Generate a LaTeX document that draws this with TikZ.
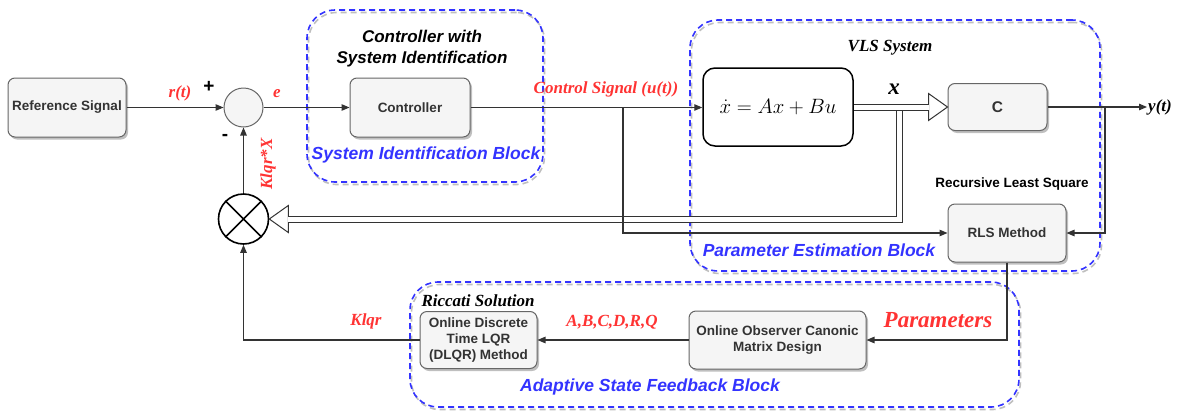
\documentclass[tikz,border=0pt]{standalone}
\usepackage{fontspec}
\setmainfont{Liberation Serif}
\setsansfont{Liberation Sans}
\usetikzlibrary{arrows.meta,shadows,calc}
\definecolor{boxfill}{HTML}{F5F5F5}
\definecolor{boxdraw}{HTML}{666666}
\definecolor{txt}{HTML}{333333}
\definecolor{lblred}{HTML}{FF3333}
\definecolor{blkblue}{HTML}{3333FF}
\newcommand\fsz[2]{\fontsize{#1}{#2}\selectfont}
\begin{document}
\begin{tikzpicture}[x=1pt,y=-1pt,
  box/.style={draw=boxdraw, fill=boxfill, rounded corners=7pt, text=txt,
    font=\sffamily\bfseries\fsz{13.5}{16.5}, align=center, inner sep=2pt, line width=1pt,
    drop shadow={shadow xshift=2pt, shadow yshift=-2.5pt, opacity=0.25, fill=black}},
  frame/.style={draw=blkblue, line width=1.6pt, dash pattern=on 6pt off 4pt, rounded corners=28pt,
    preaction={draw=black!25, line width=1.6pt, dash pattern=on 6pt off 4pt,
      transform canvas={shift={(1.5pt,-2.5pt)}}}},
  redlbl/.style={font=\rmfamily\bfseries\itshape\fsz{17}{20}, text=lblred, inner sep=0pt},
  blklbl/.style={font=\rmfamily\bfseries\itshape\fsz{17}{20}, text=black, inner sep=0pt},
  bluelbl/.style={font=\sffamily\bfseries\itshape\fsz{17.5}{21}, text=blkblue, inner sep=0pt},
  conn/.style={draw=txt, line width=1.1pt},
  arr/.style={-{Triangle[length=8pt,width=6.5pt]}},
  dbl/.style={draw=txt, line width=1pt, double=white, double distance=5pt},
  tri/.style={draw=txt, line width=1pt, fill=white, line join=miter}
]
\useasboundingbox (0,0) rectangle (1187,410);

% dashed group frames
\node[frame, minimum width=236, minimum height=172] (sib) at (425,96) {};
\node[frame, minimum width=410, minimum height=251] (vls) at (895,145.5) {};
\node[frame, minimum width=609, minimum height=125] (asf) at (714.5,344.5) {};

% blocks
\node[box, minimum width=118, minimum height=59] (ref) at (67,107.5) {Reference Signal};
\node[circle, draw=boxdraw, fill=boxfill, line width=1pt, minimum size=39, inner sep=0pt] (sum) at (243.5,107.5) {};
\node[box, minimum width=120, minimum height=59] (ctrl) at (410,107.5) {Controller};
\node[draw=black, fill=white, line width=1.5pt, rounded corners=12pt, minimum width=150, minimum height=78, inner sep=0pt] (state) at (778,107) {\fsz{20.5}{24}$\dot{x} = Ax + Bu$};
\node[box, minimum width=99, minimum height=47, font=\sffamily\bfseries\fsz{15.5}{18}] (cbox) at (997.5,107) {C};
\node[box, minimum width=118, minimum height=58] (rls) at (1007,233) {RLS Method};
\node[box, minimum width=177, minimum height=58] (obs) at (777.5,340) {Online Observer Canonic\\Matrix Design};
\node[box, minimum width=117, minimum height=57, font=\sffamily\bfseries\fsz{13.5}{16}] (dlqr) at (478.5,340) {Online Discrete\\Time LQR\\(DLQR) Method};
\node[circle, draw=black, fill=white, line width=1.6pt, minimum size=50, inner sep=0pt] (mult) at (243.5,219) {};
\draw[line width=1.6pt] (mult.north west) -- (mult.south east) (mult.north east) -- (mult.south west);

% labels
\node[font=\sffamily\bfseries\itshape\fsz{17}{21}, align=center, inner sep=0pt] (ctitle) at (422,48.5) {Controller with\\System Identification};
\node[bluelbl] (sibl) at (426,155) {System Identification Block};
\node[bluelbl] (vlsl) at (819,250) {Parameter Estimation Block};
\node[bluelbl] (asfl) at (650,387) {Adaptive State Feedback Block};
\node[redlbl] (rt) at (180,93) {r(t)};
\node[font=\sffamily\bfseries\fsz{19}{22}, inner sep=0pt] (plus) at (209,87) {+};
\node[font=\sffamily\bfseries\fsz{19}{22}, inner sep=0pt] (minus) at (225,137) {-};
\node[redlbl] (el) at (277,94) {e};
\node[redlbl, rotate=90] (klx) at (268,164) {Klqr*X};
\node[redlbl] (csig) at (606,89) {Control Signal (u(t))};
\node[blklbl] (vlst) at (890,48) {VLS System};
\node[blklbl, font=\rmfamily\bfseries\itshape\fsz{23}{26}] (xl) at (894,89) {x};
\node[blklbl, anchor=west, inner sep=1pt] (yl) at (1147,107) {y(t)};
\node[font=\sffamily\bfseries\fsz{13.5}{16}, inner sep=0pt] (rlst) at (1012,184) {Recursive Least Square};
\node[redlbl, font=\rmfamily\bfseries\itshape\fsz{23}{26}] (par) at (938,320) {Parameters};
\node[redlbl] (abcd) at (612,322) {A,B,C,D,R,Q};
\node[blklbl] (ric) at (478,301) {Riccati Solution};
\node[redlbl] (klqr) at (366,321) {Klqr};

% hollow double arrows
\coordinate (j) at (899.5,107);
\draw[tri] (cbox.west) -- ++(-19,-13.5) -- ++(0,27) -- cycle;
\draw[tri] (mult.east) -- ++(19,-13.5) -- ++(0,27) -- cycle;
\draw[dbl] (j) -- (j |- mult.east) -- ($(mult.east)+(18.4,0)$);
\draw[dbl] (state.east) -- ($(cbox.west)+(-18.4,0)$);

% connectors
\coordinate (b1) at (623,107.5);
\coordinate (b2) at (1105,107);
\draw[conn, arr] (ref) -- (sum);
\draw[conn, arr] (sum) -- (ctrl);
\draw[conn, arr] (ctrl.east) -- (ctrl.east -| state.west);
\draw[conn, arr] (b1) |- (rls.west);
\draw[conn, arr] (cbox.east) -- (yl.west);
\draw[conn, arr] (b2) |- (rls.east);
\draw[conn, arr] (rls.south) |- (obs.east);
\draw[conn, arr] (obs.west) -- (dlqr.east);
\draw[conn, arr] (dlqr.west) -| (mult.south);
\draw[conn, arr] (mult.north) -- (sum.south);
\end{tikzpicture}
\end{document}
